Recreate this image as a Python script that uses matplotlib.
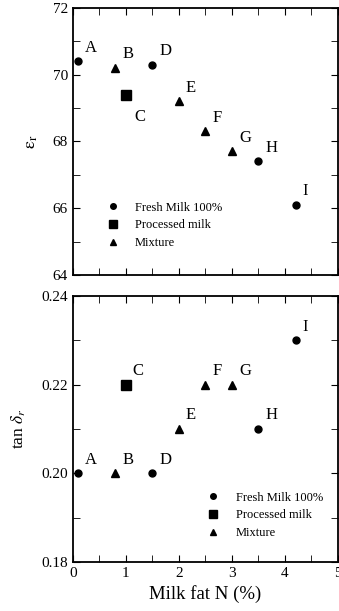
import matplotlib
matplotlib.use("Agg")
import matplotlib.pyplot as plt
from matplotlib.ticker import MultipleLocator

plt.rcParams["font.family"] = "serif"
plt.rcParams["font.serif"] = ["Liberation Serif", "DejaVu Serif"]
plt.rcParams["mathtext.fontset"] = "stix"

# ── data ────────────────────────────────────────────────────────────────
names  = ["A", "B", "C", "D", "E", "F", "G", "H", "I"]
fat    = [0.1, 0.8, 1.0, 1.5, 2.0, 2.5, 3.0, 3.5, 4.2]
kind   = ["fresh", "mix", "proc", "fresh", "mix", "mix", "mix", "fresh", "fresh"]
eps_r  = [70.4, 70.2, 69.4, 70.3, 69.2, 68.3, 67.7, 67.4, 66.1]
tan_d  = [0.20, 0.20, 0.22, 0.20, 0.21, 0.22, 0.22, 0.21, 0.23]

groups = [("fresh", "o", 5, "Fresh Milk 100%"),
          ("proc",  "s", 6.5, "Processed milk"),
          ("mix",   "^", 6, "Mixture")]

# label offsets in points (dx, dy)
off_top = {"C": (6, -10)}
off_bot = {}

fig = plt.figure(figsize=(3.39, 6.11), dpi=100)
ax1 = fig.add_axes([0.215, 0.550, 0.782, 0.437])
ax2 = fig.add_axes([0.215, 0.080, 0.782, 0.436])

def draw(ax, yv, offs):
    for key, mk, ms, lab in groups:
        xs = [x for x, k in zip(fat, kind) if k == key]
        ys = [y for y, k in zip(yv, kind) if k == key]
        ax.plot(xs, ys, ls="none", marker=mk, ms=ms, color="black", label=lab)
    for n, x, y in zip(names, fat, yv):
        dx, dy = offs.get(n, (5, 4))
        ax.annotate(n, (x, y), xytext=(dx, dy), textcoords="offset points",
                    fontsize=12, ha="left", va="bottom" if dy >= 0 else "top")
    ax.set_xlim(0, 5)
    ax.xaxis.set_major_locator(MultipleLocator(1))
    ax.xaxis.set_minor_locator(MultipleLocator(0.5))
    ax.tick_params(which="both", direction="in", top=True, right=True, labelsize=11)
    ax.tick_params(which="major", length=5)
    ax.tick_params(which="minor", length=5)
    for s in ax.spines.values():
        s.set_linewidth(1.3)

draw(ax1, eps_r, off_top)
ax1.set_ylim(64, 72)
ax1.yaxis.set_major_locator(MultipleLocator(2))
ax1.yaxis.set_minor_locator(MultipleLocator(1))
ax1.set_xticklabels([])
ax1.set_ylabel(r"$\mathrm{\varepsilon_r}$", fontsize=13, labelpad=9)
ax1.legend(loc="lower left", bbox_to_anchor=(0.06, 0.055), frameon=False,
           fontsize=9, handletextpad=0.8, labelspacing=0.45, markerscale=0.8)

draw(ax2, tan_d, off_bot)
ax2.set_ylim(0.18, 0.24)
ax2.yaxis.set_major_locator(MultipleLocator(0.02))
ax2.yaxis.set_minor_locator(MultipleLocator(0.01))
ax2.yaxis.set_major_formatter(lambda v, p: f"{v:.2f}")
ax2.set_ylabel(r"tan $\delta_r$", fontsize=12.5, labelpad=10)
ax2.set_xlabel("Milk fat N (%)", fontsize=13.5)
ax2.legend(loc="lower left", bbox_to_anchor=(0.44, 0.045), frameon=False,
           fontsize=9, handletextpad=0.8, labelspacing=0.45, markerscale=0.8)

fig.savefig("out.png", dpi=100)
